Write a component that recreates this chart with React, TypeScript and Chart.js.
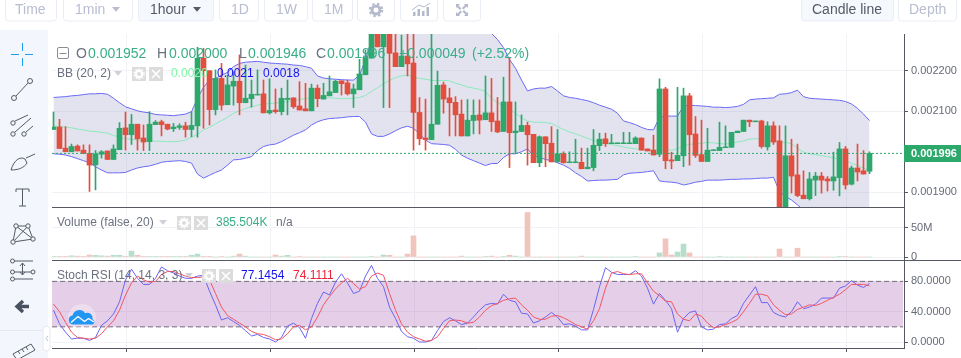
import React, { useEffect, useRef } from "react";
import { Chart, registerables } from "chart.js";

// Prices are in millionths (1996 = 0.001996).
const opens = [2055,2061,2009,2000,2014,2004,1996,1968,1994,2002,1981,2005,2059,2042,2068,2034,2025,2067,2074,2068,2057,2060,2064,2055,2064,2231,2200,2104,2181,2116,2162,2174,2121,2131,2140,2143,2096,2103,2099,2129,2133,2113,2106,2101,2157,2130,2138,2146,2175,2170,2143,2153,2190,2231,2305,2259,2305,2244,2210,2236,2219,2097,2034,2030,2068,2165,2133,2122,2093,2039,2077,2091,2079,2096,2076,2050,2123,2047,2050,2065,2043,1973,2037,2021,1976,1995,1973,1973,1974,1958,1961,2015,2032,2020,2020,2020,2020,2020,2034,2007,2004,1994,2155,1980,1978,1990,2138,2044,1993,1976,2003,2003,2010,2011,2047,2050,2078,2074,2076,2012,2064,2027,1815,1990,1943,1893,1884,1930,1940,1933,1928,1936,2007,1920,1960,1953,1952];
const highs = [2098,2080,2062,2019,2017,2017,2017,2003,2003,2002,2017,2072,2098,2092,2068,2066,2099,2077,2078,2068,2070,2069,2073,2099,2258,2255,2200,2202,2218,2189,2198,2239,2214,2177,2202,2177,2180,2155,2157,2177,2133,2173,2169,2167,2165,2169,2187,2177,2175,2177,2167,2228,2251,2333,2330,2330,2330,2300,2288,2300,2310,2134,2130,2320,2199,2172,2157,2136,2128,2129,2128,2128,2187,2181,2134,2184,2231,2123,2091,2073,2043,2039,2037,2062,2055,2000,2000,2031,2009,2009,2055,2046,2046,2043,2022,2048,2048,2037,2034,2007,2041,2180,2159,1999,2159,2157,2144,2087,2078,2058,2005,2073,2064,2048,2051,2078,2078,2076,2078,2074,2074,2064,2064,2031,2019,1953,1949,1949,1949,1939,1999,2023,2013,1965,2019,2003,2000];
const lows = [2055,2008,2000,2000,2002,1995,1902,1906,1984,1981,1981,2005,2004,2018,2004,2003,2003,2067,2039,2054,2050,2055,2036,2037,2036,2058,2066,2091,2103,2116,2115,2091,2121,2110,2140,2096,2093,2095,2091,2091,2107,2103,2101,2101,2111,2130,2138,2146,2140,2140,2109,2153,2190,2231,2259,2109,2109,2210,2210,2187,2004,2017,2004,2030,2068,2095,2039,2039,2039,2039,2044,2044,2079,2050,2047,2050,1961,1996,2050,1967,1973,1963,1963,1975,1973,1972,1973,1973,1958,1958,1953,2003,2013,2020,2020,2020,2020,2020,2004,2002,1992,1988,1958,1958,1978,1963,1967,1986,1976,1976,2003,2003,2010,2011,2047,2050,2062,2074,2009,2004,2018,1810,1805,1898,1889,1884,1881,1892,1898,1903,1905,1891,1908,1918,1928,1945,1946];
const closes = [2061,2008,2000,2013,2002,1996,1967,1994,2000,1981,2007,2058,2042,2068,2032,2024,2068,2073,2067,2056,2061,2064,2055,2065,2231,2200,2104,2181,2115,2165,2174,2121,2132,2142,2142,2096,2102,2099,2132,2132,2111,2103,2101,2157,2131,2139,2148,2174,2168,2143,2155,2192,2233,2305,2259,2305,2243,2210,2236,2217,2097,2032,2030,2068,2164,2130,2121,2091,2039,2078,2090,2078,2096,2074,2049,2123,2047,2051,2065,2042,1973,2037,2020,1975,1995,1973,1975,1975,1958,1962,2016,2031,2020,2022,2022,2022,2022,2034,2004,2002,1992,2155,1978,1977,1991,2138,2042,1991,1976,2004,2005,2011,2012,2048,2051,2078,2074,2076,2013,2064,2024,1815,1990,1940,1892,1884,1933,1940,1930,1928,1938,2007,1918,1960,1950,1945,1996];
const bbUpper = [2134,2135,2136,2138,2139,2141,2143,2143,2144,2142,2132,2121,2111,2106,2101,2098,2096,2092,2091,2090,2089,2091,2093,2099,2132,2159,2177,2181,2189,2196,2210,2218,2221,2222,2223,2221,2219,2218,2217,2216,2214,2213,2210,2206,2187,2182,2180,2179,2178,2177,2177,2189,2228,2276,2309,2325,2333,2337,2342,2345,2348,2350,2352,2352,2350,2348,2345,2342,2338,2333,2325,2317,2305,2292,2277,2257,2228,2206,2177,2150,2155,2157,2157,2161,2150,2138,2134,2132,2129,2126,2121,2115,2110,2105,2095,2076,2072,2067,2060,2055,2054,2085,2088,2088,2088,2113,2115,2114,2113,2112,2110,2110,2109,2110,2112,2117,2128,2130,2131,2132,2133,2142,2143,2146,2152,2136,2132,2131,2130,2129,2128,2127,2124,2118,2107,2093,2077];
const bbMiddle = [2064,2062,2061,2059,2056,2054,2051,2050,2048,2046,2040,2036,2032,2031,2029,2027,2027,2026,2026,2025,2025,2026,2029,2036,2043,2054,2060,2069,2077,2085,2095,2101,2107,2111,2115,2117,2119,2120,2122,2124,2126,2129,2131,2134,2136,2134,2133,2132,2131,2131,2132,2134,2139,2149,2158,2168,2176,2183,2187,2189,2185,2181,2179,2176,2176,2176,2175,2169,2165,2160,2157,2154,2149,2131,2121,2113,2105,2095,2084,2076,2073,2073,2072,2070,2062,2055,2049,2044,2039,2033,2028,2023,2020,2018,2015,2012,2009,2007,2005,2005,2004,2005,2005,2004,2007,2015,2018,2020,2021,2023,2022,2020,2019,2021,2024,2027,2031,2032,2032,2029,2027,2024,2023,2020,2009,1999,1995,1993,1990,1988,1985,1981,1978,1972,1966,1960,1953];
const bbLower = [1995,1994,1992,1988,1983,1978,1973,1963,1955,1948,1948,1948,1949,1955,1960,1963,1965,1969,1974,1976,1977,1978,1976,1972,1945,1935,1942,1949,1955,1967,1980,1981,1984,1988,2003,2013,2017,2019,2025,2033,2041,2047,2054,2066,2074,2079,2082,2083,2084,2086,2087,2087,2073,2044,2038,2038,2044,2052,2059,2063,2058,2044,2029,2020,2019,2018,2016,2006,1992,1984,1978,1972,1966,1971,1971,1986,1995,1995,2000,2007,1990,1986,1981,1978,1973,1967,1959,1948,1939,1928,1929,1930,1930,1931,1932,1943,1947,1948,1949,1951,1953,1928,1926,1925,1923,1918,1921,1925,1927,1930,1930,1930,1931,1932,1932,1933,1933,1934,1935,1935,1937,1902,1889,1881,1869,1856,1848,1847,1844,1842,1840,1840,1838,1836,1836,1834,1833];
// Volume in millions.
const volumes = [1,1,1,2,1.5,1,3.4,2.8,2,1.5,3,3,1,10,3,1,1,1,1,1,1,1,1,3,5,1,0.5,0,1,0,1.5,5,1.5,0,0,0,0,3.4,1.5,3,0,1,0,0,0,0,0,0,0,0,0,0,0,1,0,3.4,3,0,0,5,36,0,0,0,0,0,0,0,1.5,0,0,0,1,1.5,0,1,3,1.5,0,76,0,0,0,0,0,0,0,0,1.5,0,0,0,0,0,0,0,0,1,0,0,0,7,31,3.4,8.5,22,7,0,0,0,0,1,0,0,0,0,0,0,0,0,0,13.6,0,0,15,0,0,0,0,0,0,1,1,0,0,0,0,0,0.39];
const stochK = [42,24,13,4,5,5,2,6,22,28,37,53,82,96,84,76,76,84,99,94,91,87,84,84,87,88,67,49,29,32,27,22,15,8,10,6,4,0,6,21,25,19,5,31,51,66,62,79,90,78,64,67,87,101,84,73,46,31,14,7,5,0,0,2,15,27,32,28,23,25,33,42,49,51,50,63,55,53,38,37,25,28,33,39,33,23,24,21,16,16,43,73,98,92,89,89,89,94,87,71,50,64,55,44,13,31,39,41,20,16,17,23,24,31,35,51,62,73,52,52,39,35,33,40,53,44,46,50,58,58,58,71,74,81,75,72,77.15];
const stochD = [50,40,26,13,6,5,4,5,11,20,28,42,62,78,87,82,79,80,89,93,93,90,87,85,85,86,82,64,46,35,30,25,20,14,11,10,7,3,4,11,20,22,16,20,33,49,60,70,78,84,77,70,73,87,91,88,64,42,24,13,7,4,1,2,7,18,28,29,28,25,26,33,42,48,51,55,57,58,49,42,33,30,30,34,35,32,28,23,20,17,28,44,71,91,93,90,89,90,90,78,67,61,54,53,37,30,28,37,34,25,19,20,23,26,30,40,51,63,63,61,49,42,36,37,43,46,49,48,51,55,59,63,69,76,76,76,74.11];

const candleIndex = opens.map((_, i) => i);
const lastPrice = 1996;
const priceTicks = [1900, 2100, 2200];
const volumeTicks = [0, 50];
const stochTicks = [0, 40, 80];
const timeTicks = [12.17, 36.17, 60.17, 84.17, 108.17, 132.17];
const xRange = [-0.25, 141.75];
const bandEnd = 141.6;

const UP = "#2ca86a";
const DOWN = "#e24f3e";
const UP_SOFT = "#b6dfcb";
const DOWN_SOFT = "#f1c5bd";
const AXIS = "#555860";
const GRID = "#f1f2f6";
const TICK = "#666b78";
const FONT = '"Liberation Sans", Arial, sans-serif';

const paneClip = {
  id: "paneClip",
  beforeDatasetDraw(chart: any, args: any) {
    if (args.index === 0) {
      const { left, right } = chart.scales.x;
      const { top, bottom } = chart.scales.y;
      chart.ctx.save();
      chart.ctx.beginPath();
      chart.ctx.rect(left, top, right - left, bottom - top);
      chart.ctx.clip();
    }
  },
  afterDatasetDraw(chart: any, args: any) {
    if (args.index === 0) chart.ctx.restore();
  },
};

// Registered first so that it wraps the Filler plugin's band fill.
Chart.register(paneClip, ...registerables);

const paneFrame = {
  id: "paneFrame",
  afterDraw(chart: any) {
    const { ctx, width } = chart;
    const { x, y, vol, stoch } = chart.scales;
    ctx.save();
    ctx.strokeStyle = AXIS;
    ctx.lineWidth = 1;
    ctx.beginPath();
    const a = Math.round(vol.top) + 0.5;
    const b = Math.round(stoch.top) + 0.5;
    ctx.moveTo(x.left, a);
    ctx.lineTo(x.right, a);
    ctx.moveTo(x.left, b);
    ctx.lineTo(width, b);
    ctx.stroke();
    const py = y.getPixelForValue(lastPrice);
    ctx.fillStyle = UP;
    ctx.fillRect(x.right, Math.round(py) - 8, width - x.right, 17);
    ctx.fillStyle = "#fff";
    ctx.font = `bold 11px ${FONT}`;
    ctx.textBaseline = "middle";
    ctx.fillText((lastPrice / 1e6).toFixed(6), x.right + 7, Math.round(py) + 0.5);
    ctx.restore();
  },
};

function yAxis(weight: number, min: number, max: number, ticks: number[], fmt: (v: number) => string) {
  return {
    type: "linear",
    position: "right",
    stack: "panes",
    stackWeight: weight,
    min,
    max,
    afterBuildTicks(s: any) {
      s.ticks = ticks.map((value) => ({ value }));
    },
    afterFit(s: any) {
      s.width = 57;
    },
    border: { color: AXIS, width: 1 },
    grid: { color: GRID, tickColor: AXIS, tickLength: 4, drawTicks: true },
    ticks: {
      color: TICK,
      padding: 3,
      autoSkip: false,
      maxRotation: 0,
      font: { family: FONT, size: 11 },
      callback: (v: number) => fmt(v),
    },
  };
}

const toXY = (arr: number[]) => arr.map((y, i) => ({ x: candleIndex[i], y }));

function buildConfig(): any {
  const isUp = candleIndex.map((i) => closes[i] >= opens[i]);
  const solid = isUp.map((u) => (u ? UP : DOWN));
  const soft = isUp.map((u) => (u ? UP_SOFT : DOWN_SOFT));
  const line = { type: "line", pointRadius: 0, borderWidth: 1, tension: 0, xAxisID: "x" };
  return {
    type: "bar",
    data: {
      datasets: [
        { ...line, label: "BB upper", data: toXY(bbUpper), yAxisID: "y", borderColor: "#6a6af2", backgroundColor: "rgba(115,115,180,0.2)", fill: "+1", order: 10 },
        { ...line, label: "BB lower", data: toXY(bbLower), yAxisID: "y", borderColor: "#6a6af2", order: 9 },
        { ...line, label: "BB middle", data: toXY(bbMiddle), yAxisID: "y", borderColor: "#8ce8bb", order: 8 },
        { label: "Wick", data: candleIndex.map((i) => ({ x: i, y: [lows[i], highs[i]] })), yAxisID: "y", xAxisID: "x", backgroundColor: solid, maxBarThickness: 1, order: 3 },
        { label: "Body", data: candleIndex.map((i) => ({ x: i, y: [opens[i], closes[i]] })), yAxisID: "y", xAxisID: "x", backgroundColor: solid, maxBarThickness: 5, order: 2 },
        { ...line, label: "Last", data: xRange.map((x) => ({ x, y: lastPrice })), yAxisID: "y", borderColor: UP, borderDash: [2, 2], order: 1 },
        { label: "Volume", data: toXY(volumes), yAxisID: "vol", xAxisID: "x", backgroundColor: soft, maxBarThickness: 5, order: 4 },
        { ...line, label: "Upper band", data: [xRange[0], bandEnd].map((x) => ({ x, y: 80 })), yAxisID: "stoch", borderColor: "#766a7c", borderDash: [5, 3], backgroundColor: "rgba(150,60,160,0.25)", fill: "+1", order: 7 },
        { ...line, label: "Lower band", data: [xRange[0], bandEnd].map((x) => ({ x, y: 20 })), yAxisID: "stoch", borderColor: "#766a7c", borderDash: [5, 3], order: 6 },
        { ...line, label: "%K", data: toXY(stochK), yAxisID: "stoch", borderColor: "#6a64f0", order: 5 },
        { ...line, label: "%D", data: toXY(stochD), yAxisID: "stoch", borderColor: "#ef5666", order: 4.5 },
      ],
    },
    plugins: [paneFrame],
    options: {
      animation: false,
      responsive: false,
      maintainAspectRatio: false,
      layout: { padding: { left: 52, top: 34, right: 0, bottom: 0 } },
      datasets: { bar: { grouped: false, barPercentage: 1, categoryPercentage: 1, borderWidth: 0 } },
      plugins: { legend: { display: false }, tooltip: { enabled: false }, title: { display: false } },
      scales: {
        x: {
          type: "linear",
          offset: false,
          min: xRange[0],
          max: xRange[1],
          afterBuildTicks(s: any) {
            s.ticks = timeTicks.map((value) => ({ value }));
          },
          afterFit(s: any) {
            s.height = 10;
          },
          border: { color: AXIS, width: 1 },
          grid: { color: GRID, tickColor: AXIS, tickLength: 4, offset: false },
          ticks: { display: false },
        },
        y: yAxis(173, 1863.7, 2290.6, priceTicks, (v) => (v / 1e6).toFixed(6)),
        vol: yAxis(53, -5.1, 85.3, volumeTicks, (v) => (v === 0 ? "0" : `${v}M`)),
        stoch: yAxis(88, -7.9, 108.2, stochTicks, (v) => v.toFixed(4)),
      },
    },
  };
}

const Label = ({ x, cy, size = 12, color, bold, children }: any) => (
  <span style={{ position: "absolute", left: x, top: cy - 10, height: 20, lineHeight: "20px", fontSize: size, color, fontWeight: bold ? 700 : 400, whiteSpace: "nowrap" }}>
    {children}
  </span>
);

const toolButtons = [
  { x: 5, w: 51, text: "Time" },
  { x: 63, w: 69, text: "1min" },
  { x: 138, w: 75, text: "1hour", active: true },
  { x: 219, w: 39, text: "1D" },
  { x: 264, w: 43, text: "1W" },
  { x: 312, w: 40, text: "1M" },
  { x: 357, w: 37, text: "" },
  { x: 400, w: 37, text: "" },
  { x: 443, w: 37, text: "" },
  { x: 801, w: 92, text: "Candle line", active: true },
  { x: 898, w: 58, text: "Depth" },
];

const Caret = ({ x, y, w = 8, color = "#cfd1d8" }: any) => <path d={`M${x} ${y - 2} h${w} l${-w / 2} ${w * 0.6} z`} fill={color} />;

const MiniGear = ({ x, y }: any) => (
  <g>
    <rect x={x} y={y} width={14} height={14} fill="#dcdcdc" />
    <circle cx={x + 7} cy={y + 7} r={3.2} fill="none" stroke="#fff" strokeWidth={2.4} />
    <circle cx={x + 7} cy={y + 7} r={5} fill="none" stroke="#fff" strokeWidth={1.4} strokeDasharray="1.6 1.6" />
  </g>
);
const MiniClose = ({ x, y }: any) => (
  <g>
    <rect x={x} y={y} width={14} height={14} fill="#dcdcdc" />
    <path d={`M${x + 3} ${y + 3} l8 8 M${x + 11} ${y + 3} l-8 8`} stroke="#fff" strokeWidth={1.6} />
  </g>
);

const Overlay = () => (
  <svg width={961} height={358} style={{ position: "absolute", left: 0, top: 0 }}>
    <rect x={0} y={30} width={48} height={328} fill="#f3f6fd" />
    <line x1={0} x2={48} y1={330.5} y2={330.5} stroke="#e3e7f0" />
    {/* crosshair */}
    <path d="M11 54.5h8M25 54.5h8M22.5 43v8M22.5 58v8" stroke="#1e9df2" strokeWidth={1} fill="none" />
    <g stroke="#555a66" strokeWidth={1} fill="#f3f6fd">
      {/* trend line */}
      <path d="M16 96L28 83" />
      <circle cx={14} cy={98} r={2.5} /><circle cx={30} cy={81} r={2.5} />
      {/* parallel lines */}
      <path d="M15 121L28 115M15 132L31 118M26 132L33 126" fill="none" />
      <circle cx={13} cy={123} r={2.2} /><circle cx={13} cy={134} r={2.2} /><circle cx={24} cy={134} r={2.2} />
      {/* brush */}
      <path d="M11 170 C14 160 20 156 25 159 L27 163 C24 168 18 170 11 170 Z M26 158 L35 154" />
      {/* T */}
      <path d="M16 192v-3h13v3M22.5 189v17M19 206h7" fill="none" />
      {/* network */}
      <path d="M16 226L13 242L33 239L28 226L16 226L33 239M28 226L13 242" fill="none" />
      <circle cx={16} cy={226} r={2.2} /><circle cx={28} cy={226} r={2.2} /><circle cx={13} cy={242} r={2.2} /><circle cx={33} cy={239} r={2.2} />
      <path d="M14 261H33M14 272H31M14 279H33" fill="none" />
      <circle cx={12.5} cy={261} r={2} /><circle cx={12.5} cy={272} r={2} /><circle cx={12.5} cy={279} r={2} /><circle cx={33} cy={272} r={2} />
      <path d="M22.5 263v12M20 266l2.5-3 2.5 3M20 272l2.5 3 2.5-3" fill="none" />
      {/* ruler */}
      <path d="M13 354L31 344L35 350L17 360Z" />
      <path d="M18 351l2 3M22 349l2 3M26 347l2 3" fill="none" />
    </g>
    {/* back arrow */}
    <path d="M29 306.5H18M23 301l-6 5.5 6 5.5" stroke="#49505f" strokeWidth={3.4} fill="none" />
    {/* collapse handle */}
    <rect x={43} y={326} width={7} height={25} rx={3.5} fill="#fff" stroke="#e6e8ef" />
    <path d="M48 336l-2 2.5 2 2.5" stroke="#b8bdd0" fill="none" />
    {/* toolbar buttons */}
    {toolButtons.map((b, i) => (
      <rect key={i} x={b.x + 0.5} y={-4} width={b.w} height={25} rx={3} fill={b.active ? "#f5f8fd" : "#fff"} stroke="#e9edf5" />
    ))}
    <Caret x={112} y={9} color="#b8bdd0" />
    <Caret x={193} y={9} color="#555a66" />
    {/* gear */}
    <circle cx={376} cy={10} r={4} fill="none" stroke="#b4b9cc" strokeWidth={3} />
    <circle cx={376} cy={10} r={6.3} fill="none" stroke="#b4b9cc" strokeWidth={2} strokeDasharray="2.4 2.6" />
    {/* chart icon */}
    <path d="M413 16v-4h2.5v4zM417.5 16v-7h2.5v7zM422 16v-5h2.5v5zM426.5 16v-9h2.5v9z" fill="#b4b9cc" />
    <path d="M412 10L419 5L424 7L430 3" stroke="#b4b9cc" fill="none" />
    {/* expand icon */}
    <path d="M456 4h4l-1.5 1.5 3 3-1.5 1.5-3-3L456 8zM468 4v4l-1.5-1.5-3 3-1.5-1.5 3-3L464 4zM456 16v-4l1.5 1.5 3-3 1.5 1.5-3 3L460 16zM468 16h-4l1.5-1.5-3-3 1.5-1.5 3 3L468 12z" fill="#b4b9cc" />
    {/* pane legend icons */}
    <rect x={57.5} y={47.5} width={11} height={11} rx={1.5} fill="none" stroke="#8a8d96" />
    <path d="M59.5 53.5h7" stroke="#8a8d96" />
    <Caret x={114} y={73} /><MiniGear x={132} y={67} /><MiniClose x={149} y={67} />
    <Caret x={159} y={222} /><MiniGear x={177} y={216} /><MiniClose x={194} y={216} />
    <Caret x={185} y={275} /><MiniGear x={202} y={269} /><MiniClose x={219} y={269} />
    {/* watermark */}
    <circle cx={82} cy={318} r={14} fill="#fff" fillOpacity={0.3} />
    <path d="M73 324.5a4.6 4.6 0 0 1-.5-9.1a7 7 0 0 1 12.6-2.2a5.6 5.6 0 0 1 7.6 6.2a2.8 2.8 0 0 1 .3 5.1z" fill="#2196f3" />
    <path d="M71 322.5L78 316.5L84.5 321.5L88.5 318.5L94 322" fill="none" stroke="#fff" strokeWidth={1.3} />
  </svg>
);

export default function App() {
  const ref = useRef<HTMLCanvasElement | null>(null);
  useEffect(() => {
    const chart = new Chart(ref.current as HTMLCanvasElement, buildConfig());
    return () => chart.destroy();
  }, []);
  const green = "#3aae88";
  const grey = "#6b7080";
  return (
    <div style={{ position: "fixed", left: 0, top: 0, width: 961, height: 358, overflow: "hidden", background: "#fff", fontFamily: FONT }}>
      <canvas ref={ref} width={961} height={358} style={{ position: "absolute", left: 0, top: 0, width: 961, height: 358 }} />
      <Overlay />
      <Label x={15} cy={9} size={14} color="#b8bdd0">Time</Label>
      <Label x={75} cy={9} size={14} color="#b8bdd0">1min</Label>
      <Label x={150} cy={9} size={14} color="#555a66">1hour</Label>
      <Label x={231} cy={9} size={14} color="#b8bdd0">1D</Label>
      <Label x={276} cy={9} size={14} color="#b8bdd0">1W</Label>
      <Label x={324} cy={9} size={14} color="#b8bdd0">1M</Label>
      <Label x={812} cy={9} size={14} color="#555a66">Candle line</Label>
      <Label x={909} cy={9} size={14} color="#b8bdd0">Depth</Label>

      <Label x={76} cy={53} size={14} color={grey}>O</Label>
      <Label x={88} cy={53} size={14} color={green}>0.001952</Label>
      <Label x={157} cy={53} size={14} color={grey}>H</Label>
      <Label x={169} cy={53} size={14} color={green}>0.002000</Label>
      <Label x={239} cy={53} size={14} color={grey}>L</Label>
      <Label x={248} cy={53} size={14} color={green}>0.001946</Label>
      <Label x={316} cy={53} size={14} color={grey}>C</Label>
      <Label x={327} cy={53} size={14} color={green}>0.001996</Label>
      <Label x={399} cy={53} size={14} color={green}>+0.000049</Label>
      <Label x={472} cy={53} size={14} color={green}>(+2.52%)</Label>

      <Label x={57} cy={73} color={grey}>BB (20, 2)</Label>
      <Label x={171} cy={73} color="#80f5a8">0.0020</Label>
      <Label x={217} cy={73} color="#1414f0">0.0021</Label>
      <Label x={263} cy={73} color="#1414f0">0.0018</Label>

      <Label x={57} cy={222} color={grey}>Volume (false, 20)</Label>
      <Label x={216} cy={222} color={green}>385.504K</Label>
      <Label x={276} cy={222} color={grey}>n/a</Label>

      <Label x={57} cy={275} color={grey}>Stoch RSI (14, 14, 3, 3)</Label>
      <Label x={241} cy={275} color="#1414f0">77.1454</Label>
      <Label x={293} cy={275} color="#f0203c">74.1111</Label>
    </div>
  );
}
